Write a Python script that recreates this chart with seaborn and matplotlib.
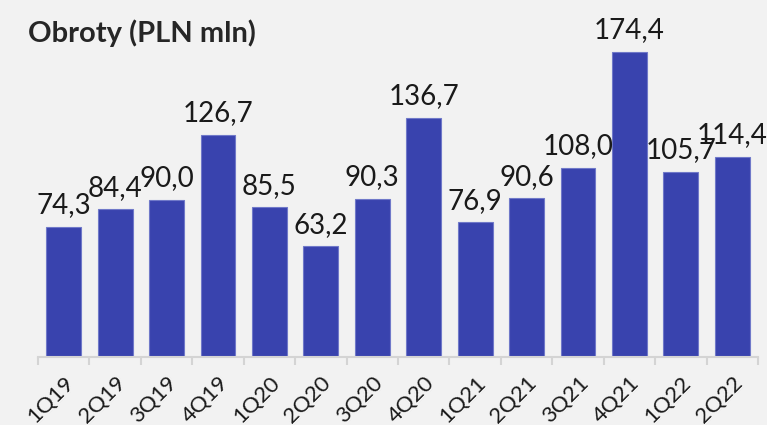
import matplotlib
matplotlib.use("Agg")
import matplotlib.pyplot as plt
import seaborn as sns
import pandas as pd
import numpy as np
from matplotlib.ticker import FixedLocator

quarters = ["1Q19", "2Q19", "3Q19", "4Q19", "1Q20", "2Q20", "3Q20", "4Q20",
            "1Q21", "2Q21", "3Q21", "4Q21", "1Q22", "2Q22"]
turnover = [74.3, 84.4, 90.0, 126.7, 85.5, 63.2, 90.3, 136.7,
            76.9, 90.6, 108.0, 174.4, 105.7, 114.4]

df = pd.DataFrame({"quarter": quarters, "turnover": turnover})

sns.set_theme(style="white")
plt.rcParams["font.family"] = ["Lato", "DejaVu Sans"]

bg = "#f2f2f2"
fig = plt.figure(figsize=(7.67, 4.25), dpi=100, facecolor=bg)
ax = fig.add_axes([38 / 767, 68 / 425, 720 / 767, 350 / 425], facecolor=bg)

sns.barplot(data=df, x="quarter", y="turnover", color="#3943ae",
            saturation=1, width=0.68, edgecolor="#7079c9", linewidth=0.8, ax=ax)

ax.set_ylim(0, 200)
ax.set_xlim(-0.5, len(quarters) - 0.5)

# value labels with decimal comma
for i, v in enumerate(turnover):
    ax.text(i, v + 5, f"{v:.1f}".replace(".", ","), ha="center", va="bottom",
            fontsize=20, color="#1a1a1a")

for s in ["top", "right", "left"]:
    ax.spines[s].set_visible(False)
ax.spines["bottom"].set_color("#d4d4d4")
ax.spines["bottom"].set_linewidth(1.5)

ax.set_yticks([])
ax.set_xlabel("")
ax.set_ylabel("")
ax.tick_params(axis="x", which="major", length=0, pad=11)
ax.xaxis.set_minor_locator(FixedLocator(np.arange(-0.5, len(quarters), 1.0)))
ax.tick_params(axis="x", which="minor", length=6, width=1.5, color="#d4d4d4",
               direction="out", bottom=True)
for lbl in ax.get_xticklabels():
    lbl.set_rotation(45)
    lbl.set_ha("right")
    lbl.set_rotation_mode("anchor")
    lbl.set_fontsize(16)
    lbl.set_color("#1a1a1a")

fig.text(28 / 767, 1 - 33 / 425, "Obroty (PLN mln)", ha="left", va="center",
         fontsize=21, fontweight="bold", color="#262626")

fig.savefig("out.png", dpi=100, facecolor=bg)
